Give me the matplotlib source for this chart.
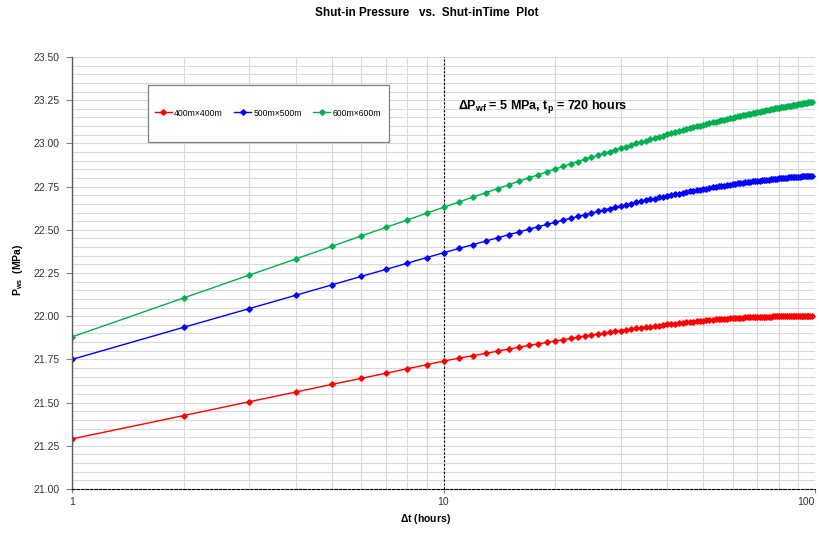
#!/usr/bin/env python3
""" shut-in pressure vs shut-in time """
import matplotlib
matplotlib.use('Agg')
import matplotlib.pyplot as plt
from matplotlib.patches import Rectangle
from matplotlib.ticker import FixedLocator, MultipleLocator, NullFormatter

# shut-in time, hours
dt = list(range(1, 99))

p_400 = [21.290, 21.425, 21.505, 21.561, 21.605, 21.640, 21.670, 21.696, 21.719, 21.740,
         21.757, 21.772, 21.785, 21.798, 21.810, 21.821, 21.831, 21.840, 21.849, 21.857,
         21.864, 21.872, 21.878, 21.885, 21.891, 21.896, 21.902, 21.907, 21.912, 21.916,
         21.921, 21.925, 21.929, 21.933, 21.936, 21.940, 21.943, 21.946, 21.949, 21.952,
         21.954, 21.957, 21.960, 21.962, 21.964, 21.966, 21.968, 21.970, 21.972, 21.974,
         21.976, 21.977, 21.979, 21.981, 21.982, 21.983, 21.985, 21.986, 21.987, 21.988,
         21.989, 21.990, 21.991, 21.992, 21.993, 21.993, 21.994, 21.995, 21.995, 21.996,
         21.996, 21.997, 21.997, 21.998, 21.998, 21.998, 21.999, 21.999, 21.999, 22.000,
         22.000, 22.000, 22.000, 22.001, 22.001, 22.001, 22.001, 22.001, 22.002, 22.002,
         22.002, 22.002, 22.002, 22.002, 22.002, 22.003, 22.003, 22.003]

p_500 = [21.750, 21.936, 22.044, 22.121, 22.181, 22.230, 22.271, 22.307, 22.339, 22.367,
         22.392, 22.414, 22.435, 22.454, 22.472, 22.488, 22.504, 22.518, 22.531, 22.544,
         22.556, 22.567, 22.577, 22.587, 22.597, 22.606, 22.614, 22.623, 22.630, 22.638,
         22.645, 22.652, 22.658, 22.664, 22.670, 22.676, 22.681, 22.687, 22.692, 22.697,
         22.701, 22.706, 22.710, 22.714, 22.718, 22.722, 22.726, 22.729, 22.733, 22.736,
         22.739, 22.742, 22.745, 22.748, 22.751, 22.754, 22.756, 22.759, 22.761, 22.764,
         22.766, 22.768, 22.770, 22.772, 22.774, 22.776, 22.778, 22.780, 22.782, 22.783,
         22.785, 22.787, 22.788, 22.790, 22.791, 22.792, 22.794, 22.795, 22.796, 22.797,
         22.798, 22.800, 22.801, 22.802, 22.803, 22.804, 22.805, 22.805, 22.806, 22.807,
         22.808, 22.809, 22.809, 22.810, 22.811, 22.811, 22.812, 22.813]

p_600 = [21.880, 22.106, 22.238, 22.331, 22.404, 22.464, 22.514, 22.557, 22.596, 22.630,
         22.661, 22.689, 22.715, 22.739, 22.761, 22.782, 22.801, 22.819, 22.836, 22.852,
         22.867, 22.881, 22.895, 22.908, 22.920, 22.931, 22.943, 22.953, 22.963, 22.973,
         22.982, 22.991, 23.000, 23.008, 23.016, 23.024, 23.031, 23.038, 23.045, 23.052,
         23.058, 23.064, 23.070, 23.076, 23.082, 23.087, 23.093, 23.098, 23.103, 23.108,
         23.112, 23.117, 23.121, 23.126, 23.130, 23.134, 23.138, 23.142, 23.146, 23.149,
         23.153, 23.156, 23.160, 23.163, 23.166, 23.169, 23.172, 23.176, 23.178, 23.181,
         23.184, 23.187, 23.190, 23.192, 23.195, 23.197, 23.200, 23.202, 23.204, 23.207,
         23.209, 23.211, 23.213, 23.215, 23.217, 23.219, 23.221, 23.223, 23.225, 23.227,
         23.229, 23.230, 23.232, 23.234, 23.236, 23.237, 23.239, 23.240]

series = [('400m×400m', p_400, '#ff0000'),
          ('500m×500m', p_500, '#0000ff'),
          ('600m×600m', p_600, '#00b050')]

plt.rcParams['font.family'] = ['Liberation Sans', 'DejaVu Sans']
plt.rcParams['mathtext.default'] = 'regular'

fig = plt.figure(figsize=(8.19, 5.36), dpi=100)
ax = fig.add_axes([72 / 819, 1 - 489 / 536, 743 / 819, 432 / 536])

for label, vals, color in series:
    ax.plot(dt, vals, color=color, lw=1.0, marker='D', ms=2.8,
            mec=color, mfc=color, label=label)

ax.set_xscale('log')
ax.set_xlim(1, 100)
ax.set_ylim(21.0, 23.5)

# grid
ax.xaxis.set_major_locator(FixedLocator([1, 10, 100]))
ax.xaxis.set_minor_locator(FixedLocator([2, 3, 4, 5, 6, 7, 8, 9, 20, 30, 40, 50,
                                         60, 70, 80, 90]))
ax.xaxis.set_minor_formatter(NullFormatter())
ax.set_xticklabels(['1', '10', '100'])
ax.get_xticklabels()[2].set_horizontalalignment('right')
ax.yaxis.set_major_locator(MultipleLocator(0.25))
ax.yaxis.set_minor_locator(MultipleLocator(0.05))
ax.yaxis.set_major_formatter(matplotlib.ticker.FormatStrFormatter('%.2f'))
ax.grid(True, which='both', color='#d9d9d9', lw=0.8)
ax.set_axisbelow(True)

ax.tick_params(axis='y', which='major', length=4, width=0.8, color='#808080',
               labelsize=7.5, labelcolor='#333333', pad=5)
ax.tick_params(axis='x', which='major', length=3, width=0.8, color='#808080',
               labelsize=7.5, labelcolor='#333333', pad=3)
ax.tick_params(which='minor', length=0)

for side in ['top', 'right']:
    ax.spines[side].set_visible(False)
ax.spines['left'].set_color('#595959')
ax.spines['left'].set_linewidth(1.0)
ax.spines['bottom'].set_color('black')
ax.spines['bottom'].set_linewidth(0.8)
ax.spines['bottom'].set_linestyle((0, (2.5, 1.5)))

ax.axvline(10, color='black', lw=0.8, ls=(0, (2, 1.5)), zorder=1.5)

# legend with its own frame
ax.add_patch(Rectangle(((148 - 72) / 743, (489 - 142) / 432), 241 / 743, 57 / 432,
                       transform=ax.transAxes, facecolor='white',
                       edgecolor='#808080', lw=0.9, zorder=3))
leg = ax.legend(loc='center', bbox_to_anchor=((268 - 72) / 743, (489 - 113) / 432),
                ncol=3, frameon=False, fontsize=6.2, handlelength=2.0,
                handletextpad=0.25, columnspacing=1.3)
leg.set_zorder(4)

ax.text((458 - 72) / 743, (489 - 107) / 432,
        r'$\Delta$P$_{wf}$ = 5 MPa, t$_{p}$ = 720 hours',
        transform=ax.transAxes, fontsize=9, fontweight='bold',
        ha='left', va='center')

fig.text(427 / 819, 1 - 13 / 536, 'Shut-in Pressure   vs.  Shut-inTime  Plot',
         ha='center', va='center', fontsize=8.5, fontweight='bold')
fig.text(425 / 819, 1 - 519 / 536, r'$\Delta$t (hours)',
         ha='center', va='center', fontsize=7.5, fontweight='bold')
fig.text(18 / 819, 1 - 270 / 536, r'P$_{ws}$  (MPa)', rotation=90,
         ha='center', va='center', fontsize=7.5, fontweight='bold')

fig.savefig('out.png', dpi=100)
